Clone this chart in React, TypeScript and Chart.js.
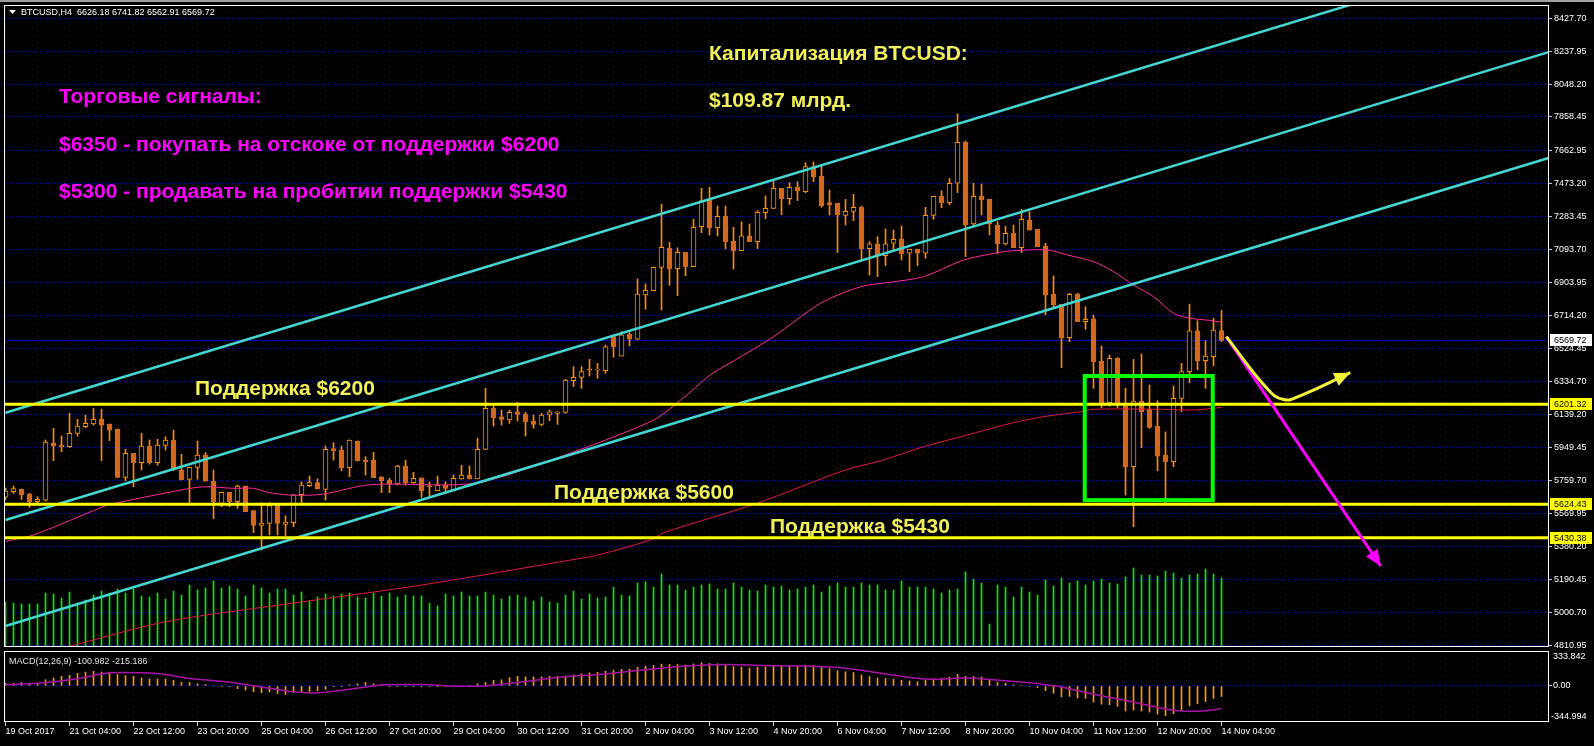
import React, { useEffect, useRef } from 'react';
import { Chart, registerables } from 'chart.js';

Chart.register(...registerables);

// ---------------- DATA ----------------
const symbolTitle = 'BTCUSD,H4';

const opens = [
  5665, 5697, 5712, 5683, 5639, 5648, 5975, 5966, 5956, 6033,
  6072, 6087, 6116, 6087, 6058, 5779, 5918, 5864, 5960, 5864,
  5964, 5995, 5822, 5768, 5837, 5908, 5758, 5629, 5693, 5639,
  5729, 5587, 5502, 5514, 5616, 5508, 5518, 5679, 5731, 5749,
  5710, 5945, 5937, 5835, 5989, 5879, 5879, 5783, 5764, 5741,
  5845, 5749, 5776, 5729, 5702, 5735, 5702, 5770, 5793, 5771,
  5941, 6177, 6129, 6110, 6158, 6145, 6104, 6085, 6139, 6148,
  6154, 6337, 6356, 6402, 6398, 6395, 6591, 6479, 6606, 6576,
  6832, 6856, 6991, 7101, 6983, 7078, 6995, 7226, 7380, 7220,
  7285, 7143, 7087, 7172, 7139, 7306, 7331, 7447, 7387, 7453,
  7428, 7572, 7518, 7364, 7360, 7291, 7314, 7337, 7099, 7126,
  7058, 7130, 7153, 7072, 7095, 7072, 7291, 7401, 7364, 7476,
  7712, 7241, 7401, 7383, 7235, 7126, 7187, 7104, 7264, 7210,
  7114, 6835, 6778, 6585, 6835, 6677, 6693, 6450, 6210, 6466,
  6191, 5841, 6220, 6172, 6075, 5908, 5870, 6235, 6389, 6624,
  6452, 6475, 6626.18,
];
const highs = [
  5718, 5729, 5712, 5687, 5668, 5995, 6062, 6018, 6149, 6114,
  6139, 6177, 6172, 6087, 6058, 5941, 5918, 6033, 5995, 5999,
  6014, 6052, 5912, 5837, 5989, 5922, 5822, 5693, 5693, 5735,
  5729, 5587, 5633, 5633, 5616, 5558, 5679, 5754, 5787, 5771,
  5960, 5979, 5960, 5995, 5989, 5899, 5924, 5783, 5774, 5849,
  5879, 5808, 5776, 5754, 5787, 5754, 5793, 5849, 5845, 6004,
  6293, 6191, 6168, 6168, 6212, 6154, 6139, 6149, 6168, 6158,
  6345, 6418, 6418, 6460, 6437, 6543, 6601, 6620, 6614, 6924,
  6895, 6991, 7356, 7135, 7103, 7078, 7268, 7447, 7453, 7345,
  7345, 7222, 7253, 7241, 7318, 7403, 7495, 7447, 7479, 7485,
  7595, 7599, 7576, 7437, 7360, 7383, 7412, 7345, 7139, 7168,
  7212, 7206, 7229, 7095, 7095, 7337, 7401, 7433, 7504, 7876,
  7720, 7476, 7472, 7383, 7254, 7229, 7235, 7326, 7312, 7210,
  7130, 6941, 6778, 6841, 6841, 6764, 6716, 6537, 6485, 6470,
  6293, 6460, 6491, 6312, 6222, 6041, 6306, 6437, 6779, 6683,
  6568, 6697, 6741.82,
];
const lows = [
  5650, 5686, 5652, 5606, 5633, 5643, 5875, 5927, 5952, 6018,
  6066, 6081, 5875, 5991, 5779, 5760, 5725, 5822, 5856, 5850,
  5937, 5818, 5764, 5629, 5768, 5758, 5541, 5610, 5610, 5600,
  5581, 5460, 5360, 5447, 5447, 5441, 5495, 5629, 5725, 5712,
  5648, 5879, 5818, 5783, 5874, 5793, 5777, 5691, 5691, 5735,
  5735, 5745, 5664, 5672, 5702, 5697, 5702, 5768, 5770, 5771,
  5941, 6075, 6081, 6091, 6104, 6018, 6062, 6077, 6106, 6085,
  6149, 6303, 6293, 6364, 6351, 6380, 6472, 6479, 6537, 6572,
  6749, 6856, 6745, 6887, 6828, 6943, 6995, 7191, 7178, 7172,
  7097, 6981, 7087, 7139, 7099, 7272, 7331, 7295, 7354, 7376,
  7422, 7485, 7337, 7293, 7077, 7235, 7260, 7033, 6947, 6937,
  7001, 7091, 7033, 6966, 7001, 7043, 7268, 7335, 7351, 7422,
  7053, 7229, 7293, 7178, 7072, 7120, 7104, 7076, 7206, 7110,
  6716, 6754, 6412, 6562, 6677, 6633, 6293, 6180, 6190, 6180,
  5677, 5495, 5950, 6062, 5818, 5629, 5841, 6158, 6325, 6399,
  6293, 6422, 6562.91,
];
const closes = [
  5700, 5714, 5679, 5639, 5652, 5983, 5960, 5956, 6033, 6075,
  6091, 6114, 6081, 6052, 5779, 5918, 5864, 5960, 5864, 5966,
  5995, 5825, 5764, 5837, 5908, 5758, 5639, 5693, 5639, 5729,
  5581, 5502, 5516, 5616, 5514, 5521, 5679, 5735, 5749, 5712,
  5941, 5933, 5835, 5995, 5874, 5870, 5777, 5760, 5741, 5845,
  5749, 5774, 5702, 5725, 5735, 5716, 5774, 5793, 5770, 5941,
  6177, 6124, 6114, 6154, 6143, 6100, 6085, 6139, 6158, 6158,
  6341, 6356, 6389, 6398, 6400, 6533, 6533, 6601, 6576, 6837,
  6858, 6991, 7106, 6983, 7078, 6995, 7222, 7376, 7220, 7285,
  7139, 7087, 7172, 7139, 7308, 7331, 7447, 7387, 7453, 7433,
  7572, 7514, 7345, 7351, 7293, 7314, 7337, 7099, 7126, 7058,
  7126, 7153, 7068, 7095, 7072, 7291, 7401, 7364, 7476, 7712,
  7235, 7401, 7380, 7241, 7126, 7187, 7104, 7268, 7206, 7110,
  6831, 6774, 6585, 6835, 6677, 6691, 6447, 6210, 6466, 6200,
  5841, 6220, 6158, 6068, 5902, 5870, 6235, 6389, 6624, 6452,
  6479, 6629, 6569.72,
];
const volumes = [
  450, 440, 430, 430, 430, 540, 530, 490, 550, 440,
  470, 520, 560, 540, 580, 540, 580, 510, 500, 540,
  480, 560, 520, 620, 570, 590, 660, 590, 610, 580,
  510, 620, 590, 540, 580, 580, 520, 550, 460, 500,
  530, 510, 530, 540, 500, 490, 540, 510, 540, 500,
  520, 510, 510, 440, 410, 530, 510, 550, 510, 510,
  550, 520, 480, 510, 520, 500, 460, 500, 450, 440,
  520, 560, 480, 530, 490, 500, 600, 520, 510, 640,
  650, 600, 730, 620, 620, 570, 600, 620, 630, 580,
  580, 640, 600, 570, 560, 620, 600, 610, 570, 580,
  600, 620, 550, 610, 640, 600, 600, 640, 620, 620,
  570, 570, 660, 600, 600, 600, 580, 540, 570, 580,
  750, 680, 640, 230, 620, 600, 500, 600, 550, 520,
  670, 610, 690, 640, 660, 620, 660, 680, 640, 630,
  700, 790, 720, 720, 710, 760, 740, 690, 720, 730,
  780, 730, 690,
];
const macdMain = [
  26, 26, 33, 26, 26, 59, 76, 92, 102, 119,
  132, 139, 132, 132, 109, 99, 92, 76, 66, 66,
  66, 53, 33, 33, 20, 13, 0, -7, -7, -26,
  -40, -56, -66, -59, -73, -83, -66, -56, -53, -46,
  -33, -7, -7, 10, 20, 33, 20, 1, -2, -7,
  -7, -7, -8, -3, -7, -3, -2, -2, 5, 20,
  33, 53, 59, 79, 92, 86, 86, 86, 92, 92,
  95, 105, 115, 125, 130, 140, 150, 158, 160, 178,
  188, 195, 208, 205, 205, 200, 210, 222, 215, 212,
  200, 185, 180, 172, 180, 182, 192, 190, 192, 190,
  198, 195, 178, 165, 145, 135, 128, 105, 90, 75,
  70, 65, 55, 48, 40, 55, 68, 72, 85, 110,
  92, 90, 85, 55, 35, 25, 10, 5, -5, -15,
  -45, -70, -105, -100, -115, -120, -155, -175, -180, -195,
  -240, -230, -240, -250, -270, -285, -265, -235, -190, -170,
  -150, -120, -100.982,
];
const macdSignalIdx = [0, 5, 9, 13, 17, 20, 22.5, 28, 33, 36, 39, 43, 47.4, 53, 55.4, 60, 65, 69, 75, 80, 85, 90, 95, 100, 105, 110, 115, 120, 125, 128, 130, 132, 134, 136, 140, 144, 147, 150, 152];
const macdSignalVal = [10, 30, 70, 125, 125, 109, 76, 35, -23, -55, -66, -33, 10, 12, 0, 0, 43, 80, 115, 155, 190, 205, 195, 190, 170, 115, 65, 75, 50, 30, 12, -10, -45, -80, -140, -205, -240, -238, -215.186];

const fastMaIdx = [0, 3.5, 12.75, 14, 21.9, 24.75, 28.5, 31, 32.75, 35.6, 39.6, 45.6, 58.1, 65.2, 80.6, 84.4, 88.1, 91.9, 96, 101.9, 106.9, 110.6, 114.75, 119.75, 124, 126, 130.25, 132.75, 136, 138.5, 141, 143.5, 146, 148.1, 150.5, 152];
const fastMaVal = [5410, 5447, 5620, 5633, 5706, 5725, 5716, 5716, 5693, 5677, 5682, 5737, 5742, 5831, 6100, 6225, 6370, 6475, 6591, 6784, 6879, 6905, 6937, 7033, 7075, 7087, 7091, 7062, 7024, 6966, 6889, 6822, 6726, 6697, 6685, 6674];
const slowMaIdx = [0, 7.5, 20, 36, 52, 70.6, 74, 80.6, 82.3, 94, 105, 109.4, 114.75, 119.75, 126, 130.25, 134.4, 136, 144.4, 148.5, 152];
const slowMaVal = [4730, 4800, 4946, 5054, 5158, 5302, 5331, 5418, 5460, 5631, 5822, 5875, 5956, 6018, 6095, 6133, 6158, 6172, 6172, 6168, 6183];

const supportLevels = [6201.32, 5624.43, 5430.38];
const channelIdx = [0, 193];
const channelUpper = [6152, 8854];
const channelMiddle = [5533, 8234];
const channelLower = [4921.5, 7623.5];

const yellowArrowIdx = [152.6, 157.6, 159.75, 161.9, 168.1];
const yellowArrowVal = [6591, 6297, 6228, 6251, 6383];
const magentaArrowIdx = [152.6, 171.9];
const magentaArrowVal = [6591, 5268];

const boxIdx = [134.9, 150.9];
const boxVal = [6364, 5648];

const priceTicks = [8427.70, 8237.95, 8048.20, 7858.45, 7662.95, 7473.20, 7283.45, 7093.70, 6903.95, 6714.20, 6524.45, 6334.70, 6139.20, 5949.45, 5759.70, 5569.95, 5380.20, 5190.45, 5000.70, 4810.95];
const xTickLabels = ['19 Oct 2017', '21 Oct 04:00', '22 Oct 12:00', '23 Oct 20:00', '25 Oct 04:00', '26 Oct 12:00', '27 Oct 20:00', '29 Oct 04:00', '30 Oct 12:00', '31 Oct 20:00', '2 Nov 04:00', '3 Nov 12:00', '4 Nov 20:00', '6 Nov 04:00', '7 Nov 12:00', '8 Nov 20:00', '10 Nov 04:00', '11 Nov 12:00', '12 Nov 20:00', '14 Nov 04:00'];

const signalTexts = ['Торговые сигналы:', '$6350 - покупать на отскоке от поддержки $6200', '$5300 - продавать на пробитии поддержки $5430'];
const capTexts = ['Капитализация BTCUSD:', '$109.87 млрд.'];
const supportTexts = ['Поддержка $6200', 'Поддержка $5600', 'Поддержка $5430'];

// ---------------- STYLE / LAYOUT ----------------
const W = 1594;
const MAIN_H = 648;
const MACD_TOP = 648;
const MACD_H = 98;
const X_MIN = -0.1875;
const X_MAX = X_MIN + 1545 / 8;
const PRICE_MIN = 4800.6;
const PRICE_MAX = 8504.4;
const MACD_MIN = -344.994;
const MACD_MAX = 333.842;
const VOL_MAX = 6420;
const SANS = '"Liberation Sans", Arial, sans-serif';
const GRID = '#000090';
const UP = '#ff8c00';
const DOWN = '#d2691e';
const YELLOW = '#ffff00';
const TEXT_YELLOW = '#f0f05a';
const MAGENTA = '#ff00ff';
const CYAN = '#44d6d0';
const LIME = '#00ff00';

const gridIdx: number[] = [];
for (let v = 0; v <= 192; v += 4) gridIdx.push(v);

const last = closes.length - 1;
const candleIdx = closes.map((_, i) => i);
const pts = (xs: number[], ys: number[]) => xs.map((x, i) => ({ x, y: ys[i] }));
const labelAt = (v: number) => (v % 8 === 0 ? xTickLabels[v / 8] ?? '' : '');

function arrowHead(ctx: CanvasRenderingContext2D, x1: number, y1: number, x2: number, y2: number, color: string) {
  const a = Math.atan2(y2 - y1, x2 - x1);
  const len = 16;
  const hw = 7;
  const bx = x2 - len * Math.cos(a);
  const by = y2 - len * Math.sin(a);
  ctx.save();
  ctx.fillStyle = color;
  ctx.beginPath();
  ctx.moveTo(x2, y2);
  ctx.lineTo(bx + hw * Math.sin(a), by - hw * Math.cos(a));
  ctx.lineTo(bx - hw * Math.sin(a), by + hw * Math.cos(a));
  ctx.closePath();
  ctx.fill();
  ctx.restore();
}

const mainPlugin = {
  id: 'mainOverlay',
  beforeDraw(chart: any) {
    const ctx = chart.ctx;
    ctx.save();
    ctx.fillStyle = '#000';
    ctx.fillRect(0, 0, chart.width, chart.height);
    ctx.restore();
  },
  beforeDatasetsDraw(chart: any) {
    const { ctx, chartArea } = chart;
    const y = Math.round(chart.scales.y.getPixelForValue(closes[last])) + 0.5;
    ctx.save();
    ctx.strokeStyle = '#0000c0';
    ctx.lineWidth = 1;
    ctx.beginPath();
    ctx.moveTo(chartArea.left, y);
    ctx.lineTo(chartArea.right, y);
    ctx.stroke();
    ctx.restore();
  },
  afterDatasetsDraw(chart: any) {
    const { ctx } = chart;
    const xs = chart.scales.x;
    const ys = chart.scales.y;
    ctx.save();
    const bx0 = xs.getPixelForValue(boxIdx[0]);
    const bx1 = xs.getPixelForValue(boxIdx[1]);
    const by0 = ys.getPixelForValue(boxVal[0]);
    const by1 = ys.getPixelForValue(boxVal[1]);
    ctx.strokeStyle = LIME;
    ctx.lineWidth = 4;
    ctx.strokeRect(bx0, by0, bx1 - bx0, by1 - by0);
    const n = magentaArrowIdx.length;
    arrowHead(ctx,
      xs.getPixelForValue(magentaArrowIdx[n - 2]), ys.getPixelForValue(magentaArrowVal[n - 2]),
      xs.getPixelForValue(magentaArrowIdx[n - 1]), ys.getPixelForValue(magentaArrowVal[n - 1]), MAGENTA);
    const m = yellowArrowIdx.length;
    arrowHead(ctx,
      xs.getPixelForValue(yellowArrowIdx[m - 2]), ys.getPixelForValue(yellowArrowVal[m - 2]),
      xs.getPixelForValue(yellowArrowIdx[m - 1]), ys.getPixelForValue(yellowArrowVal[m - 1]), '#f2f23c');
    ctx.textBaseline = 'middle';
    ctx.textAlign = 'left';
    ctx.font = `bold 21px ${SANS}`;
    ctx.fillStyle = MAGENTA;
    ctx.fillText(signalTexts[0], 59, 97);
    ctx.fillText(signalTexts[1], 59, 145);
    ctx.fillText(signalTexts[2], 59, 192);
    ctx.fillStyle = TEXT_YELLOW;
    ctx.fillText(capTexts[0], 709, 54);
    ctx.fillText(capTexts[1], 709, 101);
    ctx.fillText(supportTexts[0], 195, 389);
    ctx.fillText(supportTexts[1], 554, 493);
    ctx.fillText(supportTexts[2], 770, 527);
    ctx.restore();
  },
  afterDraw(chart: any) {
    const { ctx, chartArea } = chart;
    const ys = chart.scales.y;
    ctx.save();
    ctx.strokeStyle = '#ffffff';
    ctx.lineWidth = 1;
    ctx.strokeRect(chartArea.left + 0.5, chartArea.top + 0.5, chartArea.right - chartArea.left - 1, chartArea.bottom - chartArea.top - 1);
    ctx.fillStyle = '#ffffff';
    ctx.beginPath();
    ctx.moveTo(9, 10);
    ctx.lineTo(16, 10);
    ctx.lineTo(12.5, 14);
    ctx.closePath();
    ctx.fill();
    ctx.font = `9px ${SANS}`;
    ctx.textBaseline = 'middle';
    ctx.textAlign = 'left';
    ctx.fillText(`${symbolTitle}  ${opens[last].toFixed(2)} ${highs[last].toFixed(2)} ${lows[last].toFixed(2)} ${closes[last].toFixed(2)}`, 21, 13);
    const badges = [{ v: closes[last], bg: '#ffffff' }, ...supportLevels.map((v) => ({ v, bg: YELLOW }))];
    badges.forEach((b) => {
      const y = Math.round(ys.getPixelForValue(b.v));
      ctx.fillStyle = b.bg;
      ctx.fillRect(chartArea.right + 1, y - 6, 42, 12);
      ctx.fillStyle = '#000000';
      ctx.fillText(b.v.toFixed(2), chartArea.right + 5, y + 0.5);
    });
    ctx.restore();
  },
};

const macdPlugin = {
  id: 'macdOverlay',
  beforeDraw(chart: any) {
    const ctx = chart.ctx;
    ctx.save();
    ctx.fillStyle = '#000';
    ctx.fillRect(0, 0, chart.width, chart.height);
    ctx.restore();
  },
  afterDraw(chart: any) {
    const { ctx, chartArea } = chart;
    const ys = chart.scales.y;
    ctx.save();
    ctx.strokeStyle = '#ffffff';
    ctx.lineWidth = 1;
    ctx.strokeRect(chartArea.left + 0.5, chartArea.top + 0.5, chartArea.right - chartArea.left - 1, chartArea.bottom - chartArea.top - 1);
    ctx.font = `9px ${SANS}`;
    ctx.textBaseline = 'middle';
    ctx.textAlign = 'left';
    ctx.fillStyle = '#e0e0e0';
    ctx.fillText(`MACD(12,26,9) ${macdMain[last].toFixed(3)} ${macdSignalVal[macdSignalVal.length - 1].toFixed(3)}`, 9, chartArea.top + 11);
    ctx.fillStyle = '#ffffff';
    const lx = chartArea.right + 4;
    ctx.fillText(MACD_MAX.toFixed(3), lx, ys.getPixelForValue(MACD_MAX) + 6);
    ctx.fillText('0.00', lx, ys.getPixelForValue(0));
    ctx.fillText(MACD_MIN.toFixed(3), lx - 2, ys.getPixelForValue(MACD_MIN) - 5);
    ctx.restore();
  },
};

function xScale(showLabels: boolean) {
  return {
    type: 'linear',
    min: X_MIN,
    max: X_MAX,
    offset: false,
    afterBuildTicks(s: any) {
      s.ticks = gridIdx.map((v) => ({ value: v }));
    },
    afterFit(s: any) {
      s.height = showLabels ? 20 : 0;
      s.paddingLeft = 0;
      s.paddingRight = 0;
    },
    grid: {
      color: GRID,
      lineWidth: 1,
      offset: false,
      drawTicks: showLabels,
      tickLength: 4,
      tickColor: (c: any) => (c.tick && labelAt(c.tick.value) !== '' ? '#c8c8c8' : 'rgba(0,0,0,0)'),
    },
    border: { display: false, dash: [3, 3] },
    ticks: {
      display: showLabels,
      autoSkip: false,
      maxRotation: 0,
      minRotation: 0,
      align: 'start',
      padding: 0,
      color: '#ffffff',
      font: { family: SANS, size: 9 },
      callback: (v: number) => labelAt(v),
    },
  };
}

function mainConfig(): any {
  return {
    type: 'bar',
    data: {
      datasets: [
        {
          type: 'line', label: 'magenta arrow', data: pts(magentaArrowIdx, magentaArrowVal),
          borderColor: MAGENTA, borderWidth: 3, pointRadius: 0, order: 0, clip: 0,
        },
        {
          type: 'line', label: 'yellow arrow', data: pts(yellowArrowIdx, yellowArrowVal),
          borderColor: '#f2f23c', borderWidth: 3, pointRadius: 0, tension: 0.45, order: -1, clip: 0,
        },
        ...supportLevels.map((v) => ({
          type: 'line', label: `support ${v}`, data: [{ x: X_MIN, y: v }, { x: X_MAX, y: v }],
          borderColor: YELLOW, borderWidth: 3, pointRadius: 0, order: 1, clip: 0,
        })),
        ...[channelUpper, channelMiddle, channelLower].map((c, k) => ({
          type: 'line', label: `channel ${k}`, data: pts(channelIdx, c),
          borderColor: CYAN, borderWidth: 2.5, pointRadius: 0, order: 2, clip: 0,
        })),
        {
          type: 'line', label: 'fast MA', data: pts(fastMaIdx, fastMaVal),
          borderColor: '#ff2a9a', borderWidth: 1, pointRadius: 0, order: 3, clip: 0, tension: 0.3,
        },
        {
          type: 'line', label: 'slow MA', data: pts(slowMaIdx, slowMaVal),
          borderColor: '#e01840', borderWidth: 1, pointRadius: 0, order: 3, clip: 0, tension: 0.3,
        },
        {
          type: 'bar', label: 'bodies', data: candleIdx.map((i) => ({ x: i, y: [opens[i], closes[i]] })),
          backgroundColor: candleIdx.map((i) => (closes[i] >= opens[i] ? '#000000' : DOWN)),
          borderColor: candleIdx.map((i) => (closes[i] >= opens[i] ? UP : DOWN)),
          borderWidth: 1, borderSkipped: false, barThickness: 5, minBarLength: 1, grouped: false, order: 4,
        },
        {
          type: 'bar', label: 'wicks', data: candleIdx.map((i) => ({ x: i, y: [lows[i], highs[i]] })),
          backgroundColor: UP, borderWidth: 0, barThickness: 1, grouped: false, order: 5,
        },
        {
          type: 'bar', label: 'volume', yAxisID: 'yVol', data: candleIdx.map((i) => ({ x: i, y: volumes[i] })),
          backgroundColor: '#00f000', borderWidth: 0, barThickness: 1, grouped: false, order: 6,
        },
      ],
    },
    options: {
      animation: false,
      responsive: false,
      maintainAspectRatio: false,
      devicePixelRatio: 1,
      events: [],
      layout: { padding: { left: 4, top: 5, right: 0, bottom: 1 } },
      plugins: { legend: { display: false }, tooltip: { enabled: false } },
      scales: {
        x: xScale(false),
        y: {
          type: 'linear',
          position: 'right',
          min: PRICE_MIN,
          max: PRICE_MAX,
          afterBuildTicks(s: any) {
            s.ticks = priceTicks.map((v) => ({ value: v }));
          },
          afterFit(s: any) {
            s.width = 45;
            s.paddingTop = 0;
            s.paddingBottom = 0;
          },
          grid: { color: GRID, lineWidth: 1, tickLength: 3, tickColor: '#c8c8c8' },
          border: { display: false, dash: [3, 3] },
          ticks: {
            autoSkip: false,
            padding: 2,
            color: '#ffffff',
            font: { family: SANS, size: 9 },
            callback: (v: number) => Number(v).toFixed(2),
          },
        },
        yVol: { type: 'linear', display: false, min: 0, max: VOL_MAX },
      },
    },
    plugins: [mainPlugin],
  };
}

function macdConfig(): any {
  return {
    type: 'bar',
    data: {
      datasets: [
        {
          type: 'line', label: 'signal', data: pts(macdSignalIdx, macdSignalVal),
          borderColor: '#a812a8', borderWidth: 1.5, pointRadius: 0, order: 0, tension: 0.3,
        },
        {
          type: 'bar', label: 'MACD', data: candleIdx.map((i) => ({ x: i, y: macdMain[i] })),
          backgroundColor: '#ff9500', borderWidth: 0, barThickness: 1, grouped: false, order: 1,
        },
      ],
    },
    options: {
      animation: false,
      responsive: false,
      maintainAspectRatio: false,
      devicePixelRatio: 1,
      events: [],
      layout: { padding: { left: 4, top: 3, right: 0, bottom: 4 } },
      plugins: { legend: { display: false }, tooltip: { enabled: false } },
      scales: {
        x: xScale(true),
        y: {
          type: 'linear',
          position: 'right',
          min: MACD_MIN,
          max: MACD_MAX,
          afterBuildTicks(s: any) {
            s.ticks = [{ value: 0 }];
          },
          afterFit(s: any) {
            s.width = 45;
            s.paddingTop = 0;
            s.paddingBottom = 0;
          },
          grid: { color: GRID, lineWidth: 1, tickLength: 3, tickColor: '#c8c8c8' },
          border: { display: false, dash: [3, 3] },
          ticks: { display: false },
        },
      },
    },
    plugins: [macdPlugin],
  };
}

export default function App() {
  const mainRef = useRef<HTMLCanvasElement>(null);
  const macdRef = useRef<HTMLCanvasElement>(null);
  useEffect(() => {
    const main = new Chart(mainRef.current as HTMLCanvasElement, mainConfig());
    const macd = new Chart(macdRef.current as HTMLCanvasElement, macdConfig());
    return () => {
      main.destroy();
      macd.destroy();
    };
  }, []);
  return (
    <div style={{ position: 'fixed', left: 0, top: 0, width: W, height: 746, background: '#000', overflow: 'hidden' }}>
      <canvas ref={mainRef} width={W} height={MAIN_H} style={{ position: 'absolute', left: 0, top: 0, width: W, height: MAIN_H, display: 'block' }} />
      <canvas ref={macdRef} width={W} height={MACD_H} style={{ position: 'absolute', left: 0, top: MACD_TOP, width: W, height: MACD_H, display: 'block' }} />
      <div style={{ position: 'absolute', left: 0, top: 0, width: W, height: 2, background: '#a0a0a0' }} />
    </div>
  );
}
